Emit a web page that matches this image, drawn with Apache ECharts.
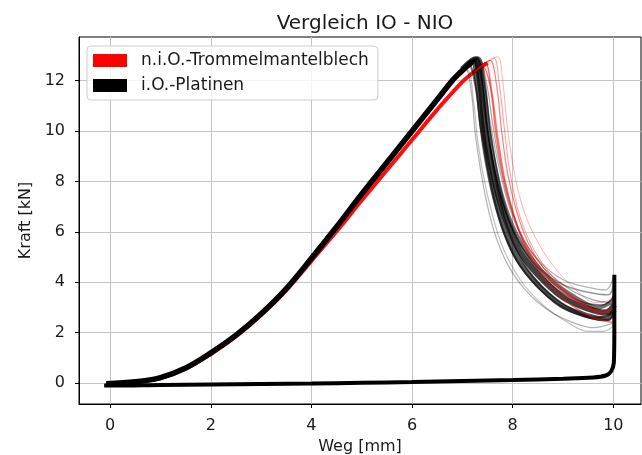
<!DOCTYPE html>
<html>
<head>
<meta charset="utf-8">
<title>Vergleich IO - NIO</title>
<script src="https://cdn.jsdelivr.net/npm/echarts@6.0.0/dist/echarts.min.js"></script>
<style>
  html, body { margin: 0; padding: 0; background: #fff; }
  #chart { width: 642px; height: 455px; }
</style>
</head>
<body>
<div id="chart"></div>
<script>
// tick labels
const xTicks = [0, 2, 4, 6, 8, 10];
const yTicks = [0, 2, 4, 6, 8, 10, 12];

// i.O.-Platinen: loading band (Weg, Kraft)
const ioLoad = [[-0.08, -0.03], [0.5, 0.05], [1, 0.22], [1.5, 0.6], [2, 1.2], [2.5, 1.9], [3, 2.75],
  [3.5, 3.75], [4, 4.95], [4.5, 6.2], [5, 7.5], [5.5, 8.75], [6, 10.0], [6.5, 11.25], [6.8, 12.0],
  [7.0, 12.4], [7.2, 12.75]];

// i.O.-Platinen: dense core of the drop after the peak
const ioCore1 = [[7.0, 12.45], [7.25, 12.85], [7.35, 12.0], [7.45, 10.0], [7.58, 8.6], [7.72, 7.4], [7.9, 6.3],
  [8.15, 5.2], [8.5, 4.3], [9.0, 3.4], [9.5, 2.95], [9.85, 2.8], [10.02, 3.1]];
const ioCore2 = [[6.95, 12.3], [7.2, 12.75], [7.3, 11.8], [7.4, 10.0], [7.5, 8.7], [7.65, 7.3], [7.85, 6.0],
  [8.1, 4.9], [8.45, 4.0], [8.95, 3.1], [9.45, 2.7], [9.85, 2.55], [10.02, 2.9]];
const ioCore3 = [[7.05, 12.5], [7.3, 12.9], [7.42, 12.0], [7.52, 10.2], [7.65, 8.6], [7.82, 7.2], [8.05, 6.0],
  [8.35, 5.0], [8.75, 4.1], [9.25, 3.4], [9.7, 3.0], [10.02, 3.3]];

// i.O.-Platinen: single samples of the drop
const ioDrop1 = [[6.8, 12.0], [7.05, 12.5], [7.18, 11.5], [7.25, 10.0], [7.35, 8.6], [7.48, 7.2], [7.65, 5.9],
  [7.9, 4.7], [8.25, 3.7], [8.7, 2.9], [9.2, 2.4], [9.6, 2.2], [10.02, 2.4]];
const ioDrop2 = [[6.85, 12.1], [7.1, 12.4], [7.22, 11.2], [7.3, 9.7], [7.42, 8.2], [7.58, 6.8], [7.8, 5.4],
  [8.15, 4.1], [8.6, 3.1], [9.1, 2.4], [9.5, 2.05], [9.8, 2.05], [10.02, 2.3]];
const ioDrop3 = [[7.0, 12.4], [7.28, 12.9], [7.42, 12.0], [7.55, 10.4], [7.7, 8.8], [7.9, 7.2], [8.15, 5.9],
  [8.5, 4.9], [9.0, 4.1], [9.5, 3.8], [9.85, 3.7], [10.02, 4.3]];
const ioDrop4 = [[6.95, 12.3], [7.2, 12.8], [7.35, 11.9], [7.5, 10.0], [7.66, 8.3], [7.86, 6.8], [8.12, 5.6],
  [8.5, 4.6], [9.0, 3.9], [9.5, 3.6], [9.9, 3.5], [10.02, 4.0]];
const ioDrop5 = [[7.0, 12.4], [7.3, 12.85], [7.45, 11.7], [7.55, 10.0], [7.68, 8.5], [7.85, 7.0], [8.1, 5.7],
  [8.45, 4.6], [8.9, 3.7], [9.4, 3.2], [9.8, 3.1], [10.02, 3.5]];
const ioDrop6 = [[6.9, 12.2], [7.12, 12.65], [7.26, 11.8], [7.36, 10.2], [7.48, 8.8], [7.62, 7.4], [7.82, 6.0],
  [8.1, 4.8], [8.5, 3.8], [9.0, 3.0], [9.5, 2.6], [9.9, 2.5], [10.02, 2.8]];
const ioDrop7 = [[7.0, 12.4], [7.25, 12.8], [7.4, 11.8], [7.5, 10.1], [7.62, 8.5], [7.78, 7.0], [8.0, 5.6],
  [8.3, 4.5], [8.7, 3.6], [9.2, 2.9], [9.7, 2.6], [10.02, 2.8]];
const ioDrop8 = [[7.05, 12.5], [7.32, 12.9], [7.48, 11.9], [7.6, 10.3], [7.75, 8.6], [7.95, 7.0], [8.25, 5.6],
  [8.65, 4.5], [9.15, 3.7], [9.6, 3.3], [9.9, 3.2], [10.02, 3.6]];

// i.O.-Platinen: unloading path at the end stop back to zero
const ioReturn = [[10.02, 4.3], [10.02, 2.0], [10.01, 0.8], [9.95, 0.45], [9.85, 0.3], [9.6, 0.22],
  [9, 0.17], [8, 0.12], [7, 0.08], [6, 0.04], [5, 0.01], [4, -0.02], [3, -0.04], [2, -0.06],
  [1, -0.08], [0, -0.1], [-0.12, -0.1]];

// n.i.O.-Trommelmantelblech
const nioLoad = [[0, 0], [0.5, 0.04], [1, 0.2], [1.5, 0.57], [2, 1.15], [2.5, 1.85], [3, 2.7],
  [3.5, 3.68], [4, 4.85], [4.5, 6.02], [5, 7.25], [5.5, 8.45], [6, 9.65], [6.5, 10.85], [7, 11.95],
  [7.3, 12.45], [7.5, 12.7]];
const nioDrop1 = [[7.2, 12.25], [7.4, 12.55], [7.55, 11.8], [7.66, 10.0], [7.8, 8.3], [7.98, 6.9], [8.2, 5.7],
  [8.5, 4.7], [8.9, 3.8], [9.4, 3.1], [9.8, 2.8], [10.02, 3.0]];
const nioDrop2 = [[7.3, 12.45], [7.55, 12.8], [7.68, 11.8], [7.78, 10.0], [7.9, 8.3], [8.08, 6.8], [8.3, 5.6],
  [8.6, 4.6], [9.0, 3.7], [9.5, 3.0], [9.85, 2.65], [10.02, 2.7]];
const nioDrop3 = [[7.4, 12.55], [7.7, 12.95], [7.8, 12.0], [7.88, 10.4], [8.0, 8.7], [8.18, 7.1], [8.42, 5.9],
  [8.75, 4.8], [9.2, 3.8], [9.65, 3.2], [10.02, 3.3]];
const nioDrop4 = [[7.25, 12.35], [7.45, 12.7], [7.58, 11.6], [7.7, 9.8], [7.85, 8.0], [8.05, 6.5], [8.3, 5.2],
  [8.65, 4.1], [9.1, 3.2], [9.6, 2.6], [10.02, 2.4]];
const nioDrop5 = [[7.35, 12.5], [7.62, 12.9], [7.73, 11.9], [7.84, 10.0], [7.96, 8.2], [8.16, 6.5], [8.45, 5.2],
  [8.85, 4.1], [9.3, 3.3], [9.75, 2.9], [10.02, 3.0]];

const NIO = "n.i.O.-Trommelmantelblech";
const IO = "i.O.-Platinen";
const FONT = "DejaVu Sans";

const line = (name, data, color, width, opacity) => ({
  name: name,
  type: "line",
  data: data,
  smooth: 0.35,
  showSymbol: false,
  silent: true,
  itemStyle: { color: color },
  lineStyle: { color: color, width: width, opacity: opacity },
});

const series = [
  line(NIO, nioLoad, "#ff0000", 4, 0.95),
  line(IO, ioLoad, "#000000", 5.5, 1),
  line(IO, ioCore1, "#000000", 6, 0.75),
  line(IO, ioCore2, "#000000", 5, 0.65),
  line(IO, ioCore3, "#000000", 4, 0.55),
  line(IO, ioDrop1, "#000000", 1.2, 0.3),
  line(IO, ioDrop2, "#000000", 1.2, 0.25),
  line(IO, ioDrop3, "#000000", 1.2, 0.3),
  line(IO, ioDrop4, "#000000", 1.5, 0.4),
  line(IO, ioDrop5, "#000000", 1.5, 0.5),
  line(IO, ioDrop6, "#000000", 2, 0.6),
  line(IO, ioDrop7, "#000000", 2, 0.6),
  line(IO, ioDrop8, "#000000", 1.2, 0.35),
  line(NIO, nioDrop1, "#ff0000", 1.5, 0.55),
  line(NIO, nioDrop2, "#ff0000", 1.2, 0.5),
  line(NIO, nioDrop3, "#ff0000", 1, 0.3),
  line(NIO, nioDrop4, "#ff0000", 1.5, 0.55),
  line(NIO, nioDrop5, "#ff0000", 1, 0.4),
  line(IO, ioReturn, "#000000", 4, 1),
];

const chart = echarts.init(document.getElementById("chart"), null, { renderer: "canvas" });

chart.setOption({
  animation: false,
  backgroundColor: "#ffffff",
  textStyle: { fontFamily: FONT },
  title: {
    text: "Vergleich IO - NIO",
    left: 360,
    top: 9,
    textAlign: "center",
    textStyle: { fontFamily: FONT, fontSize: 20, fontWeight: "normal", color: "#1a1a1a" },
  },
  legend: {
    left: 87,
    top: 46,
    orient: "vertical",
    icon: "rect",
    itemWidth: 34,
    itemHeight: 13,
    itemGap: 8,
    padding: [6, 9, 6, 6],
    borderColor: "#cccccc",
    borderWidth: 1,
    borderRadius: 4,
    backgroundColor: "rgba(255,255,255,0.8)",
    selectedMode: false,
    textStyle: { fontFamily: FONT, fontSize: 17, color: "#1a1a1a", padding: [0, 0, 0, 9] },
    data: [
      { name: NIO, itemStyle: { color: "#ff0000", opacity: 1 } },
      { name: IO, itemStyle: { color: "#000000", opacity: 1 } },
    ],
  },
  grid: {
    left: 79,
    right: 1,
    top: 37,
    bottom: 51,
    show: true,
    borderColor: "#000000",
    borderWidth: 1,
    outerBoundsMode: "none",
  },
  xAxis: {
    type: "value",
    min: -0.62,
    max: 10.55,
    name: "Weg [mm]",
    nameLocation: "middle",
    nameGap: 35,
    nameTextStyle: { fontFamily: FONT, fontSize: 16, color: "#1a1a1a" },
    axisLine: { show: true, onZero: false, lineStyle: { color: "#000000", width: 1 } },
    axisTick: { show: true, length: 4, customValues: xTicks, lineStyle: { color: "#000000" } },
    axisLabel: { customValues: xTicks, margin: 14, fontSize: 16, color: "#1a1a1a", fontFamily: FONT },
    splitLine: { show: true, lineStyle: { color: "#c4c4c4", width: 1 } },
  },
  yAxis: {
    type: "value",
    min: -0.83,
    max: 13.73,
    name: "Kraft [kN]",
    nameLocation: "middle",
    nameGap: 39,
    nameRotate: 90,
    nameTextStyle: { fontFamily: FONT, fontSize: 16, color: "#1a1a1a" },
    axisLine: { show: true, onZero: false, lineStyle: { color: "#000000", width: 1 } },
    axisTick: { show: true, length: 4, customValues: yTicks, lineStyle: { color: "#000000" } },
    axisLabel: { customValues: yTicks, margin: 14, fontSize: 16, color: "#1a1a1a", fontFamily: FONT },
    splitLine: { show: true, lineStyle: { color: "#c4c4c4", width: 1 } },
  },
  series: series,
});
</script>
</body>
</html>
